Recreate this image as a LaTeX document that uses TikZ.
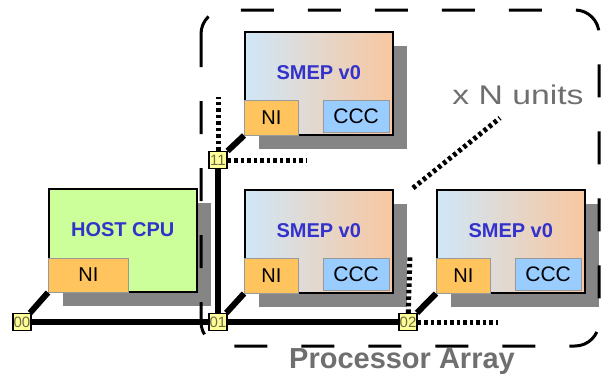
\documentclass[tikz,border=0pt]{standalone}
\usepackage{fontspec}
\setmainfont{Liberation Sans}
\usetikzlibrary{positioning,shadows}
\definecolor{hostgreen}{HTML}{CCFF99}
\definecolor{niorange}{HTML}{FFC45E}
\definecolor{cccblue}{HTML}{99CCFF}
\definecolor{smepblue}{HTML}{CFE7F8}
\definecolor{smepmid}{HTML}{E9DFD6}
\definecolor{smeporange}{HTML}{F8C7A0}
\definecolor{titleblue}{HTML}{3333CC}
\definecolor{routeryellow}{HTML}{FFFF99}
\definecolor{routertext}{HTML}{6B6B40}
\definecolor{shadowgray}{HTML}{858585}
\definecolor{labelgray}{HTML}{6F6F6F}

\begin{document}
\begin{tikzpicture}[x=1pt, y=-1pt,
    unitbox/.style={draw=black, line width=1.5pt, minimum width=148pt, minimum height=103pt,
        inner sep=0pt, anchor=north west,
        general shadow={fill=shadowgray, shadow xshift=14pt, shadow yshift=-14pt}},
    smepbox/.style={unitbox, left color=smepblue, middle color=smepmid, right color=smeporange},
    hostbox/.style={unitbox, fill=hostgreen},
    boxtitle/.style={inner sep=0pt, text=titleblue, font=\fontsize{20}{20}\bfseries\selectfont},
    nibox/.style={draw=black!40, line width=0.8pt, fill=niorange, inner sep=0pt,
        minimum width=54pt, minimum height=35pt, font=\fontsize{20}{20}\selectfont},
    cccbox/.style={draw=black!40, line width=0.8pt, fill=cccblue, inner sep=0pt,
        minimum width=66pt, minimum height=32pt, font=\fontsize{21}{21}\selectfont},
    router/.style={draw=black, line width=1.2pt, fill=routeryellow, inner sep=0pt,
        minimum width=18pt, minimum height=17pt, text=routertext, font=\fontsize{15}{15}\selectfont},
    link/.style={line width=6pt},
    stub/.style={line width=5pt, dash pattern=on 3.5pt off 3pt},
    frame/.style={line width=3pt, dash pattern=on 33pt off 34pt, rounded corners=24pt}]

    \useasboundingbox (0,0) rectangle (603,381);

    % host side
    \node[hostbox] (host) at (48,188) {};
    \node[boxtitle, below=34pt of host.north] (hosttitle) {HOST CPU};
    \node[nibox, minimum width=80pt, minimum height=34pt, anchor=south west] (niH) at (host.south west) {NI};

    % processing units
    \node[smepbox] (smepA) at (244,31) {};
    \node[smepbox] (smepB) at (244,189) {};
    \node[smepbox] (smepC) at (436,189) {};
    \foreach \u in {A,B,C} {
        \node[boxtitle, below=34pt of smep\u.north] (title\u) {SMEP v0};
        \node[nibox, anchor=south west] (ni\u) at (smep\u.south west) {NI};
        \node[cccbox, above left=3pt and 4pt of smep\u.south east] (ccc\u) {CCC};
    }

    % routers
    \node[router] (r00) at (22,322) {00};
    \node[router] (r01) at (218,322) {01};
    \node[router] (r02) at (408,322) {02};
    \node[router] (r11) at (218,160) {11};

    \draw[link] (r00) -- (r01);
    \draw[link] (r01) -- (r02);
    \draw[link] (r01) -- (r11);
    \draw[link] (r00) -- (niH.south west);
    \draw[link] (r01) -- (niB.south west);
    \draw[link] (r02) -- (niC.south west);
    \draw[link] (r11) -- (niA.south west);

    % open ends of the mesh
    \coordinate (upA) at (218,97);
    \coordinate (rightA) at (307,160);
    \coordinate (upB) at (410,255);
    \coordinate (rightB) at (498,322);
    \coordinate (moreA) at (413,188);
    \coordinate (moreB) at (500,118);
    \draw[stub] (r11) -- (upA);
    \draw[stub] (r11) -- (rightA);
    \draw[stub] (r02) -- (upB);
    \draw[stub] (r02) -- (rightB);
    \draw[stub] (moreA) -- (moreB);

    \draw[frame] (201,10) rectangle (599,346);

    \node[text=labelgray, font=\fontsize{29}{29}\bfseries\selectfont] (arraylabel) at (402,362) {Processor Array};
    \node[text=labelgray, font=\fontsize{27}{27}\selectfont] (unitslabel) at (518,95) {\scalebox{1.25}[1]{x N units}};
\end{tikzpicture}
\end{document}
